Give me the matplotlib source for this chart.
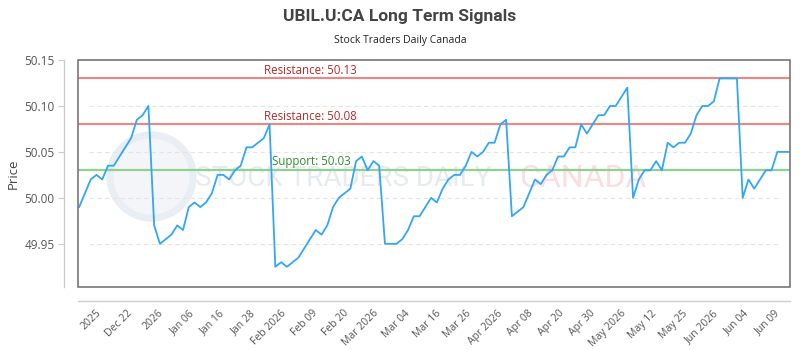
import numpy as np
import matplotlib
matplotlib.use("Agg")
import matplotlib.pyplot as plt
from matplotlib.patches import Rectangle

# price series (one value per trading day)
prices = [
    49.99, 50.005, 50.02, 50.025, 50.02, 50.035, 50.035, 50.045, 50.055, 50.065,
    50.085, 50.09, 50.10, 49.97, 49.95, 49.955, 49.96, 49.97, 49.965, 49.99,
    49.995, 49.99, 49.995, 50.005, 50.025, 50.025, 50.02, 50.03, 50.035, 50.055,
    50.055, 50.06, 50.065, 50.08, 49.925, 49.93, 49.925, 49.93, 49.935, 49.945,
    49.955, 49.965, 49.96, 49.97, 49.99, 50.00, 50.005, 50.01, 50.04, 50.045,
    50.03, 50.04, 50.035, 49.95, 49.95, 49.95, 49.955, 49.965, 49.98, 49.98,
    49.99, 50.00, 49.995, 50.01, 50.02, 50.025, 50.025, 50.035, 50.05, 50.045,
    50.05, 50.06, 50.06, 50.08, 50.085, 49.98, 49.985, 49.99, 50.005, 50.02,
    50.015, 50.025, 50.03, 50.045, 50.045, 50.055, 50.055, 50.08, 50.07, 50.08,
    50.09, 50.09, 50.10, 50.10, 50.11, 50.12, 50.00, 50.02, 50.03, 50.03,
    50.04, 50.03, 50.06, 50.055, 50.06, 50.06, 50.07, 50.09, 50.10, 50.10,
    50.105, 50.13, 50.13, 50.13, 50.13, 50.00, 50.02, 50.01, 50.02, 50.03,
    50.03, 50.05, 50.05, 50.05,
]

tick_labels = ["2025", "Dec 22", "2026", "Jan 06", "Jan 16", "Jan 28", "Feb 2026",
               "Feb 09", "Feb 20", "Mar 2026", "Mar 04", "Mar 16", "Mar 26",
               "Apr 2026", "Apr 08", "Apr 20", "Apr 30", "May 2026", "May 12",
               "May 25", "Jun 2026", "Jun 04", "Jun 09"]
tick_pos = [2.9, 8.3, 13.6, 19.0, 24.3, 29.6, 35.0, 40.3, 45.7, 51.0, 56.4, 61.7,
            67.0, 72.4, 77.7, 83.1, 88.4, 93.8, 99.1, 104.5, 109.8, 115.1, 120.5]

resistance = [50.13, 50.08]
support = [50.03]
y_ticks = [49.95, 50.00, 50.05, 50.10, 50.15]

plt.rcParams["font.family"] = ["Open Sans", "DejaVu Sans"]

fig = plt.figure(figsize=(8, 3.5), dpi=100)
ax = fig.add_axes([0.0975, 0.18, 0.89, 0.6485])

x = np.arange(len(prices))

# faded watermark (logo ring + text)
ax.plot([0.102], [0.49], "o", transform=ax.transAxes, ms=60, mfc="#f3f5f9",
        mec="#e9edf4", mew=5, zorder=0, clip_on=False)
ax.text(0.164, 0.48, "STOCK TRADERS DAILY", transform=ax.transAxes, fontsize=20,
        color="#e6ebf2", va="center", ha="left", zorder=0,
        family=["Roboto", "DejaVu Sans"])
ax.text(0.62, 0.48, "CANADA", transform=ax.transAxes, fontsize=23,
        color="#fbdee1", va="center", ha="left", zorder=0,
        family=["Roboto", "DejaVu Sans"])

for yv in y_ticks[:-1]:
    ax.axhline(yv, xmin=0.015, xmax=0.985, color="#e4e4e4", lw=0.8, ls=(0, (4, 3)), zorder=1)

ax.plot(x, prices, color="#33a6f5", lw=1.3, zorder=4)

for r in resistance:
    ax.axhline(r, color="#e38a8a", lw=1.6, zorder=3)
    ax.text(0.261, r + 0.002, f"Resistance: {r:.2f}", transform=ax.get_yaxis_transform(),
            color="#b22b2b", fontsize=8.3, va="bottom", ha="left", zorder=5)
for s in support:
    ax.axhline(s, color="#8fd18f", lw=1.6, zorder=3)
    ax.text(0.272, s + 0.002, f"Support: {s:.2f}", transform=ax.get_yaxis_transform(),
            color="#2e8b2e", fontsize=8.3, va="bottom", ha="left", zorder=5)

ax.set_xlim(-0.2, len(prices) - 0.8)
ax.set_ylim(49.903, 50.15)

# dark box around plot area
ax.add_patch(Rectangle((0, 0), 1, 1, transform=ax.transAxes, fill=False,
                       ec="#777777", lw=1.2, zorder=6, clip_on=False))

for side in ["top", "right"]:
    ax.spines[side].set_visible(False)
for side in ["left", "bottom"]:
    ax.spines[side].set_position(("outward", 10))
    ax.spines[side].set_color("#cccccc")
    ax.spines[side].set_linewidth(1)

ax.set_yticks(y_ticks)
ax.set_yticklabels([f"{v:.2f}" for v in y_ticks])
ax.set_xticks(tick_pos)
ax.set_xticklabels(tick_labels, rotation=45, ha="right", rotation_mode="anchor")
ax.tick_params(axis="y", colors="#cccccc", labelcolor="#555555", labelsize=8.5, length=4, pad=3)
ax.tick_params(axis="x", colors="#cccccc", labelcolor="#555555", labelsize=7.5, length=0, pad=5)
ax.set_ylabel("Price", color="#444444", fontsize=9.5, labelpad=3)

fig.text(0.5, 0.953, "UBIL.U:CA Long Term Signals", ha="center", va="center",
         fontsize=12.5, fontweight="bold", color="#444444", family=["Roboto", "DejaVu Sans"])
fig.text(0.5, 0.885, "Stock Traders Daily Canada", ha="center", va="center",
         fontsize=7.5, color="#222222")

fig.savefig("out.png", dpi=100)
